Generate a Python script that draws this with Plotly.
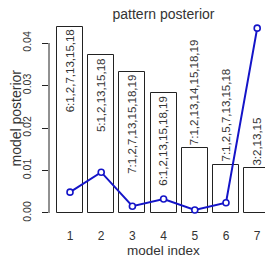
import plotly.graph_objects as go

# ---- data ----
model_index = ["1", "2", "3", "4", "5", "6", "7"]
bar_posterior = [0.0438, 0.0372, 0.0332, 0.0282, 0.0152, 0.0113, 0.0105]
pattern_labels = ["6:1,2,7,13,15,18", "5:1,2,13,15,18", "7:1,2,7,13,15,18,19",
                  "6:1,2,13,15,18,19", "7:1,2,13,14,15,18,19", "7:1,2,5,7,13,15,18",
                  "3:2,13,15"]
line_posterior = [0.0049, 0.0096, 0.0016, 0.0033, 0.0007, 0.0024, 0.0435]
y_ticks = [0.00, 0.01, 0.02, 0.03, 0.04]
y_ticktext = ["0.00", "0.01", "0.02", "0.03", "0.04"]

# barplot-style positions (width 1, space 0.2)
xpos = [0.7 + 1.2 * i for i in range(len(model_index))]

FONT = "Liberation Sans, Arial, sans-serif"
GREY = "#333333"
W, H = 265, 258
ML, MR, MT, MB = 49, 0, 17, 38
plot_h = H - MT - MB

fig = go.Figure()
fig.add_trace(go.Bar(
    x=xpos, y=bar_posterior, width=1.0,
    marker=dict(color="white", line=dict(color="#222222", width=1)),
    hoverinfo="skip", showlegend=False,
))
fig.add_trace(go.Scatter(
    x=xpos, y=line_posterior, mode="lines+markers",
    line=dict(color="#1414c8", width=2),
    marker=dict(symbol="circle", size=6, color="white",
                line=dict(color="#1414c8", width=1.6)),
    showlegend=False, cliponaxis=False,
))

annotations = []
for xv, h, lab in zip(xpos, bar_posterior, pattern_labels):
    tall = h > 0.02
    annotations.append(dict(
        x=xv, y=h, xref="x", yref="y", text=lab, showarrow=False,
        textangle=-90, font=dict(family=FONT, size=11.5, color=GREY),
        xanchor="center", yanchor="top" if tall else "bottom",
        yshift=-1 if tall else 1,
    ))

annotations.append(dict(
    x=0.53, y=(H - MB - 250) / plot_h, xref="paper", yref="paper",
    text="model index", showarrow=False, borderpad=0,
    font=dict(family=FONT, size=13.5, color=GREY),
    xanchor="center", yanchor="middle"))
annotations.append(dict(
    x=(15 - ML) / (W - ML - MR), y=0.5, xref="paper", yref="paper",
    text="model posterior", showarrow=False, textangle=-90, borderpad=0,
    font=dict(family=FONT, size=14, color=GREY),
    xanchor="center", yanchor="middle"))

fig.update_layout(
    width=W, height=H,
    margin=dict(l=ML, r=MR, t=MT, b=MB, autoexpand=False),
    paper_bgcolor="white", plot_bgcolor="white",
    bargap=0,
    title=dict(text="pattern posterior", x=0.53, xref="paper",
               y=1 - 14 / H, yref="container", xanchor="center", yanchor="middle",
               font=dict(family=FONT, size=14, color=GREY)),
    xaxis=dict(range=[-0.108, 8.2], tickvals=xpos, ticktext=model_index,
               automargin=False,
               showgrid=False, zeroline=False, showline=False, ticks="",
               tickfont=dict(family=FONT, size=12, color=GREY),
               ticklabelstandoff=7),
    yaxis=dict(range=[-0.00165, 0.04612], tickvals=y_ticks, ticktext=y_ticktext,
               automargin=False,
               showgrid=False, zeroline=False, showline=False,
               ticks="outside", ticklen=6, tickcolor="#222222", tickwidth=1,
               tickangle=-90, tickfont=dict(family=FONT, size=10.5, color=GREY),
               ticklabelstandoff=7),
    shapes=[dict(type="line", xref="paper", yref="y", x0=0, x1=0,
                 y0=y_ticks[0], y1=y_ticks[-1],
                 line=dict(color="#222222", width=1))],
    annotations=annotations,
)

fig.write_html("out.html",
               config={"displayModeBar": False},
               post_script="document.body.style.margin='0';document.body.style.padding='0';")
